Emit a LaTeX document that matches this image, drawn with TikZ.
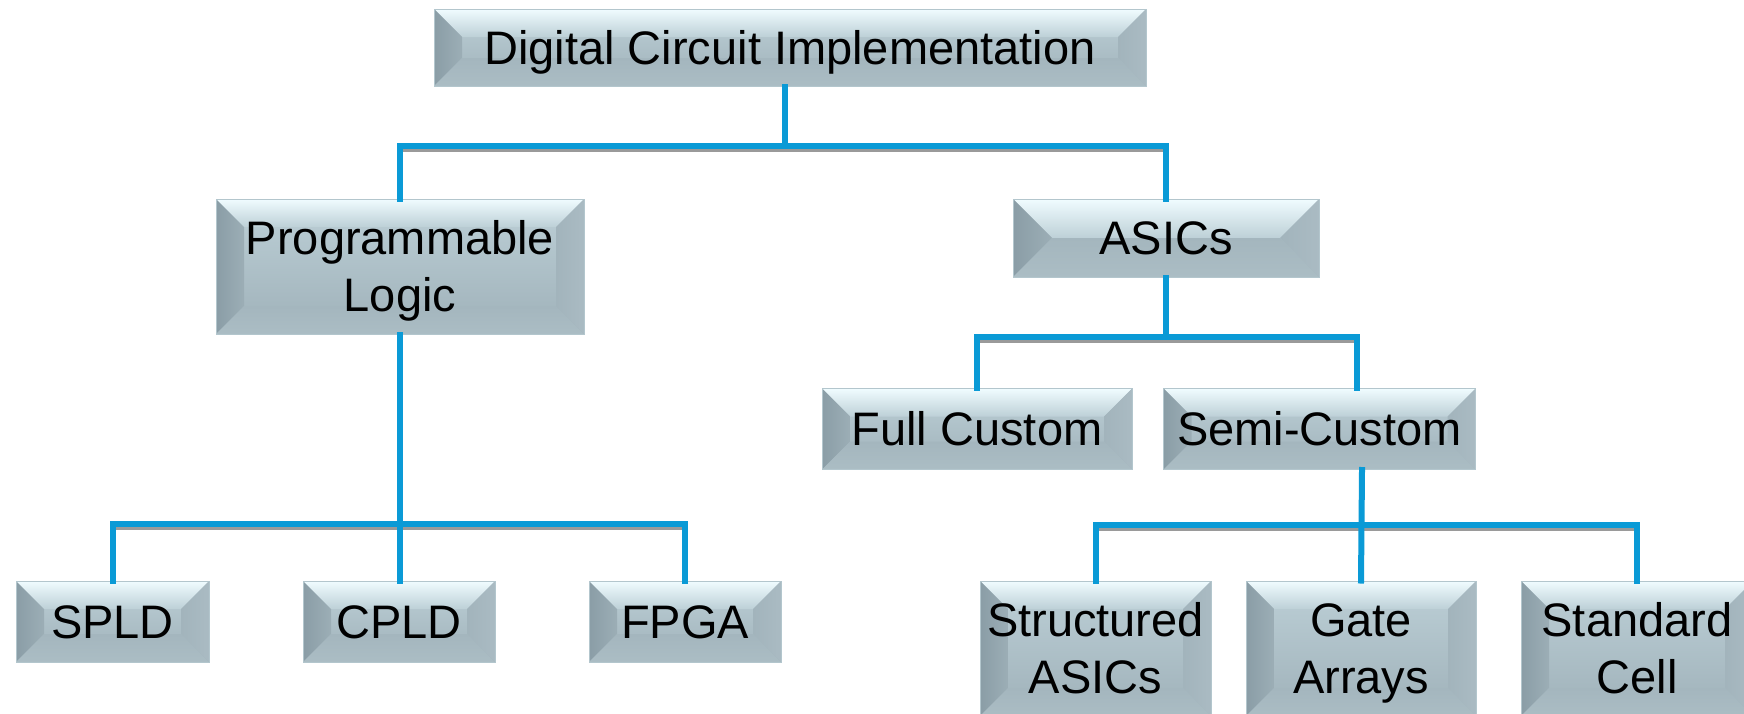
\documentclass[tikz,border=0pt]{standalone}
\usepackage{fontspec}
\setmainfont{Liberation Sans}
\usetikzlibrary{calc}

% palette
\definecolor{wire}{HTML}{0A9AD6}
\definecolor{wireshade}{HTML}{9A9A9A}
\definecolor{boxedge}{HTML}{B3C6CD}
\definecolor{faceT}{HTML}{BDD0D7}
\definecolor{faceB}{HTML}{9FB1B9}
\definecolor{topT}{HTML}{F0FCFF}
\definecolor{topB}{HTML}{BDD0D7}
\definecolor{leftO}{HTML}{8A9DA6}
\definecolor{leftI}{HTML}{9CAEB6}
\definecolor{rightO}{HTML}{AABBC3}
\definecolor{rightI}{HTML}{A2B4BC}
\definecolor{botT}{HTML}{A4B6BE}
\definecolor{botB}{HTML}{ABBDC4}

\tikzset{
  bevsize/.store in=\bevsz, bevsize=14pt,
  bevbox/.style={draw=boxedge, line width=0.5pt, inner sep=0pt, align=center,
    font=\fontsize{23.5}{28.5}\selectfont, text height=16.8pt, text depth=0pt,
    path picture={
      \coordinate (pNW) at (path picture bounding box.north west);
      \coordinate (pNE) at (path picture bounding box.north east);
      \coordinate (pSW) at (path picture bounding box.south west);
      \coordinate (pSE) at (path picture bounding box.south east);
      % central face
      \shade[top color=faceT, bottom color=faceB] (pNW) rectangle (pSE);
      % top bevel
      \shade[top color=topT, bottom color=topB]
        (pNW) -- (pNE) -- ($(pNE)+(-\bevsz,-\bevsz)$) -- ($(pNW)+(\bevsz,-\bevsz)$) -- cycle;
      % left bevel
      \shade[left color=leftO, right color=leftI]
        (pNW) -- ($(pNW)+(\bevsz,-\bevsz)$) -- ($(pSW)+(\bevsz,\bevsz)$) -- (pSW) -- cycle;
      % right bevel
      \shade[left color=rightI, right color=rightO]
        (pNE) -- ($(pNE)+(-\bevsz,-\bevsz)$) -- ($(pSE)+(-\bevsz,\bevsz)$) -- (pSE) -- cycle;
      % bottom bevel
      \shade[top color=botT, bottom color=botB]
        (pSW) -- ($(pSW)+(\bevsz,\bevsz)$) -- ($(pSE)+(-\bevsz,\bevsz)$) -- (pSE) -- cycle;
    }},
  % two-line labels: the box baseline sits on the last line
  twoline/.style={text height=45.3pt, text depth=0pt},
  conn/.style={draw=wire, line width=3pt, line join=miter, line cap=rect},
  connshade/.style={draw=wireshade, line width=1.5pt},
}

\begin{document}
\begin{tikzpicture}[x=0.5pt, y=0.5pt]
  \path[use as bounding box, fill=white] (0,0) rectangle (1744,-713);

  % junction points of the tree
  \coordinate (j1) at (785,-146);
  \coordinate (j2) at (400,-524);
  \coordinate (j3) at (1166,-337);
  \coordinate (j4) at (1362,-525);

  % --- boxes ---
  \node[bevbox, minimum width=356pt, minimum height=38.5pt] (top) at (790,-47.5) {Digital Circuit Implementation};
  \node[bevbox, twoline, minimum width=184pt, minimum height=67.5pt] (prog) at (400,-266.5) {Programmable\\Logic};
  \node[bevbox, bevsize=19.5pt, minimum width=153pt, minimum height=39pt] (asics) at (1166,-238) {ASICs};
  \node[bevbox, minimum width=155pt, minimum height=40.5pt] (full) at (977,-429) {Full Custom};
  \node[bevbox, minimum width=156pt, minimum height=40.5pt] (semi) at (1319.5,-429) {Semi-Custom};
  \node[bevbox, minimum width=96.5pt, minimum height=40.5pt] (spld) at (112.5,-621.5) {SPLD};
  \node[bevbox, minimum width=96pt, minimum height=40.5pt] (cpld) at (399,-621.5) {CPLD};
  \node[bevbox, minimum width=96pt, minimum height=40.5pt] (fpga) at (685,-621.5) {FPGA};
  \node[bevbox, twoline, minimum width=115.5pt, minimum height=67.5pt] (struct) at (1095.5,-648.5) {Structured\\ASICs};
  \node[bevbox, twoline, minimum width=115pt, minimum height=67.5pt] (gate) at (1361,-648.5) {Gate\\Arrays};
  \node[bevbox, twoline, minimum width=116pt, minimum height=67.5pt] (std) at (1637,-648.5) {Standard\\Cell};

  \coordinate (semiIn) at ([xshift=18.5pt]semi.north);

  % --- shadows under the horizontal bars ---
  \draw[connshade] ($(prog.north |- j1)+(0,-2.4pt)$) -- ($(asics.north |- j1)+(0,-2.4pt)$);
  \draw[connshade] ($(spld.north |- j2)+(0,-2.4pt)$) -- ($(fpga.north |- j2)+(0,-2.4pt)$);
  \draw[connshade] ($(full.north |- j3)+(0,-2.4pt)$) -- ($(semiIn |- j3)+(0,-2.4pt)$);
  \draw[connshade] ($(struct.north |- j4)+(0,-2.4pt)$) -- ($(std.north |- j4)+(0,-2.4pt)$);

  % --- wires ---
  \draw[conn] (top.south -| j1) -- (j1);
  \draw[conn] (prog.north) |- (j1) -| (asics.north);

  \draw[conn] (prog.south) -- (prog.south |- cpld.north);
  \draw[conn] (spld.north) |- (j2) -| (fpga.north);

  \draw[conn] (asics.south) -- (j3);
  \draw[conn] (full.north) |- (j3) -| (semiIn);

  \draw[conn] (semi.south -| j4) -- (gate.north);
  \draw[conn] (struct.north) |- (j4) -| (std.north);
\end{tikzpicture}
\end{document}
